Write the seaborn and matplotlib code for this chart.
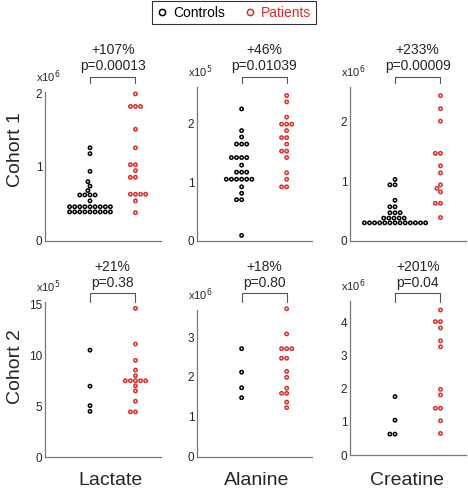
import numpy as np
import pandas as pd
import seaborn as sns
import matplotlib
matplotlib.use("Agg")
import matplotlib.pyplot as plt
from matplotlib.lines import Line2D
from matplotlib.transforms import blended_transform_factory

# values, in units of the axis multiplier (x10^n)
metabolites = ["Lactate", "Alanine", "Creatine"]
cohorts = ["Cohort 1", "Cohort 2"]
groups = ["Controls", "Patients"]

lac1_ctrl = [0.39, 0.39, 0.39, 0.39, 0.39, 0.39, 0.39, 0.39, 0.39,
             0.46, 0.46, 0.46, 0.46, 0.46, 0.46, 0.46, 0.46, 0.46,
             0.54, 0.62, 0.62, 0.62, 0.62, 0.68, 0.74, 0.80, 0.94, 1.18, 1.26]
lac1_pat = [0.38, 0.54, 0.63, 0.63, 0.63, 0.63, 0.86, 0.86, 0.95, 1.03, 1.03,
            1.26, 1.51, 1.82, 1.82, 1.82, 1.99]
ala1_ctrl = [0.09, 0.70, 0.70, 0.81, 0.92, 1.05, 1.05, 1.05, 1.05, 1.05, 1.05,
             1.17, 1.17, 1.17, 1.29, 1.42, 1.42, 1.42, 1.42, 1.65, 1.65, 1.65,
             1.77, 1.88, 2.25]
ala1_pat = [0.92, 0.92, 1.05, 1.16, 1.42, 1.53, 1.53, 1.65, 1.76, 1.76, 1.88,
            1.99, 1.99, 1.99, 2.11, 2.37, 2.48]
cre1_ctrl = [0.30, 0.30, 0.30, 0.30, 0.30, 0.30, 0.30, 0.30, 0.30, 0.30, 0.30, 0.30, 0.30,
             0.38, 0.38, 0.38, 0.38, 0.38, 0.47, 0.47, 0.47, 0.57, 0.57, 0.68,
             0.94, 0.94, 1.03]
cre1_pat = [0.39, 0.63, 0.63, 0.82, 0.88, 0.94, 1.14, 1.26, 1.47, 1.47, 2.01, 2.22, 2.44]

lac2_ctrl = [4.5, 5.06, 6.97, 10.5]
lac2_pat = [4.45, 4.45, 5.5, 6.5, 7.0, 7.5, 7.5, 7.5, 7.5, 7.5, 8.0, 8.55, 9.5, 11.1, 14.6]
ala2_ctrl = [1.48, 1.73, 2.12, 2.71]
ala2_pat = [1.23, 1.37, 1.59, 1.59, 1.72, 1.99, 2.14, 2.47, 2.47, 2.71, 2.71, 2.71, 3.08, 3.71]
cre2_ctrl = [0.63, 0.63, 1.05, 1.76]
cre2_pat = [0.65, 1.03, 1.41, 1.41, 1.81, 1.98, 3.26, 3.44, 3.83, 4.02, 4.02, 4.37]

changes = ["+107%", "+46%", "+233%", "+21%", "+18%", "+201%"]
pvalues = ["p=0.00013", "p=0.01039", "p=0.00009", "p=0.38", "p=0.80", "p=0.04"]
exponents = [6, 5, 6, 5, 6, 6]
yticks = [[0, 1, 2], [0, 1, 2], [0, 1, 2], [0, 5, 10, 15], [0, 1, 2, 3], [0, 1, 2, 3, 4]]
ylims = [2.02, 2.63, 2.59, 15.25, 3.68, 4.65]

panels = [(lac1_ctrl, lac1_pat), (ala1_ctrl, ala1_pat), (cre1_ctrl, cre1_pat),
          (lac2_ctrl, lac2_pat), (ala2_ctrl, ala2_pat), (cre2_ctrl, cre2_pat)]

RED = "#dd2c2c"
palette = {"Controls": "black", "Patients": RED}
# each group is swarmed on its own, so the swarm width (0.8 units) can exceed the column gap
group_x = {"Controls": 0.0, "Patients": 0.5}

W, H = 468, 494
# axes boxes in pixels: left, top, right, bottom
boxes = [(45, 91.7, 161, 240.7), (197, 86.7, 312, 240.7), (350, 86.7, 466, 240.7),
         (45, 301.7, 161, 457.3), (197, 310, 312, 456.7), (350, 300.7, 466, 455)]
bracket_y = [(76.7, 83.5), (293.3, 301.7)]
label_x = [110.8, 256.7, 407]

sns.set_style("white")
plt.rcParams["font.family"] = ["Liberation Sans", "DejaVu Sans"]

fig = plt.figure(figsize=(W / 100, H / 100), dpi=100)

for i, (ctrl, pat) in enumerate(panels):
    l, t, r, b = boxes[i]
    ax = fig.add_axes([l / W, 1 - b / H, (r - l) / W, (b - t) / H])
    for g, vals in zip(groups, (ctrl, pat)):
        df = pd.DataFrame({"x": group_x[g], "value": vals})
        sns.swarmplot(data=df, x="x", y="value", color=palette[g],
                      native_scale=True, size=2.4, linewidth=1.1,
                      ax=ax, warn_thresh=1)
    for coll in ax.collections:
        fc = coll.get_facecolors()
        coll.set_edgecolors(fc)
        coll.set_facecolors("none")
        coll.set_clip_on(False)

    ax.set_xlim(-0.495, 0.781)
    ax.set_ylim(0, ylims[i])
    ax.set_xticks([])
    ax.set_yticks(yticks[i])
    ax.set_yticklabels([str(v) for v in yticks[i]], fontsize=8.5)
    ax.tick_params(axis="y", direction="in", length=2.5, width=0.8,
                   color="#777777", pad=2)
    ax.set_xlabel("")
    ax.set_ylabel("")
    for side in ["top", "right"]:
        ax.spines[side].set_visible(False)
    for side in ["left", "bottom"]:
        ax.spines[side].set_color("#777777")
        ax.spines[side].set_linewidth(0.9)

    # multiplier
    ax.annotate(f"x10$^{{{exponents[i]}}}$", xy=(0, 1), xycoords="axes fraction",
                xytext=(2, 5), textcoords="offset points", ha="center", va="bottom",
                fontsize=8)

    # bracket and stats
    row = i // 3
    y_top, y_bot = bracket_y[row]
    tr = blended_transform_factory(ax.transData, fig.transFigure)
    x0, x1 = group_x["Controls"], group_x["Patients"]
    ax.plot([x0, x0, x1, x1], [1 - y_bot / H, 1 - y_top / H, 1 - y_top / H, 1 - y_bot / H],
            color="#555555", lw=0.8, transform=tr, clip_on=False)
    xm = (x0 + x1) / 2
    ax.text(xm, 1 - (y_top - 10.5) / H, pvalues[i], transform=tr, ha="center",
            va="center", fontsize=10)
    ax.text(xm, 1 - (y_top - 26.5) / H, changes[i], transform=tr, ha="center",
            va="center", fontsize=10)

# row labels
fig.text(16 / W, 1 - 150 / H, cohorts[0], rotation=90, ha="center", va="center", fontsize=14)
fig.text(16 / W, 1 - 367 / H, cohorts[1], rotation=90, ha="center", va="center", fontsize=14)

# column labels
for j, name in enumerate(metabolites):
    fig.text(label_x[j] / W, 1 - 480 / H, name, ha="center", va="center", fontsize=14)

handles = [Line2D([], [], ls="none", marker="o", markersize=4.5, markerfacecolor="none",
                  markeredgecolor=palette[g], markeredgewidth=1.1) for g in groups]
leg = fig.legend(handles, groups, loc="upper center", bbox_to_anchor=(0.5, 1.0),
                 ncol=2, fontsize=10, frameon=True, fancybox=False,
                 handlelength=0.8, handletextpad=0.4, columnspacing=1.4,
                 borderpad=0.3, borderaxespad=0.1, labelcolor=["black", RED])
leg.get_frame().set_edgecolor("black")
leg.get_frame().set_linewidth(0.8)

fig.savefig("out.png", dpi=100)
